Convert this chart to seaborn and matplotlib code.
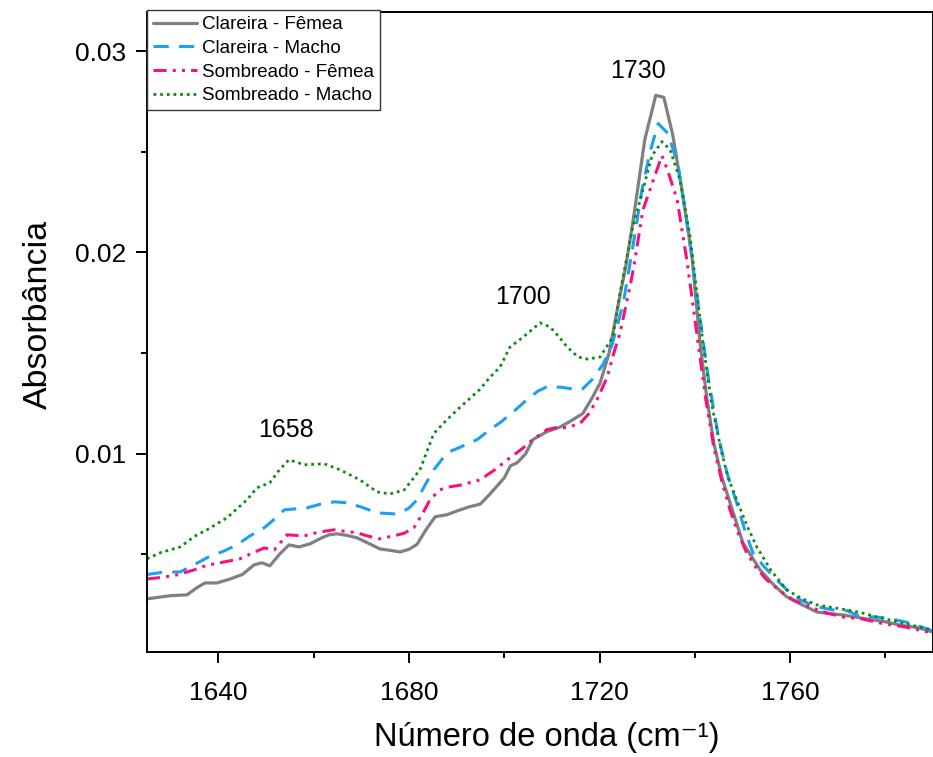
import matplotlib
matplotlib.use("Agg")
import matplotlib.pyplot as plt
import seaborn as sns
import pandas as pd

# ---------------- data ----------------
cf_x = [1625, 1630, 1633.4, 1635.5, 1637.2, 1639.7, 1642.5, 1645, 1647.5, 1649.1, 1650.8, 1652.8,
        1654.8, 1656.9, 1659.2, 1661.5, 1663.2, 1664.9, 1667, 1669.1, 1671.5, 1673.9, 1676, 1678.1,
        1680, 1681.7, 1683.5, 1685.5, 1688, 1690, 1692.5, 1695, 1697, 1698.5, 1700, 1701.3, 1702.7,
        1704.5, 1706, 1709, 1711.5, 1713.8, 1716.5, 1718.5, 1720.1, 1722, 1724, 1725.5, 1727, 1729.5,
        1731.8, 1733.5, 1735.4, 1737.5, 1739.4, 1741.1, 1742.5, 1744, 1745.7, 1747.4, 1750.1, 1753.7,
        1756.5, 1759.3, 1762.5, 1765.6, 1768.5, 1771.1, 1776.1, 1780, 1783, 1787, 1790]
cf_y = [0.00279, 0.00295, 0.00299, 0.00335, 0.00358, 0.00358, 0.00378, 0.00400, 0.00448, 0.00458,
        0.00443, 0.00500, 0.00547, 0.00537, 0.00552, 0.00580, 0.00597, 0.00602, 0.00594, 0.00582,
        0.00555, 0.00527, 0.00520, 0.00512, 0.00525, 0.00550, 0.00620, 0.00687, 0.00697, 0.00715,
        0.00735, 0.00750, 0.00800, 0.00840, 0.00880, 0.00940, 0.00955, 0.01000, 0.01070, 0.01110,
        0.01130, 0.01160, 0.01200, 0.01280, 0.01350, 0.01500, 0.01750, 0.01930, 0.02150, 0.02560,
        0.02780, 0.02770, 0.02580, 0.02280, 0.01980, 0.01550, 0.01280, 0.01050, 0.00880, 0.00756,
        0.00557, 0.00423, 0.00350, 0.00289, 0.00250, 0.00214, 0.00205, 0.00199, 0.00179, 0.00165,
        0.00149, 0.00135, 0.00114]

cm_x = [1625, 1628, 1632, 1635, 1638, 1641, 1643.9, 1646.5, 1649.6, 1651.5, 1653.8, 1658.6, 1661.5,
        1664.3, 1667, 1670, 1673.3, 1676.9, 1678.1, 1680, 1681.7, 1683.5, 1685.2, 1688, 1691, 1694.3,
        1697, 1699.1, 1702, 1704.8, 1707, 1709, 1712, 1715.3, 1716.5, 1718.5, 1720.7, 1722.5, 1725,
        1727, 1728.9, 1730.6, 1732.3, 1734.4, 1736.5, 1738.6, 1741.1, 1743, 1745, 1746.8, 1748.8,
        1750.5, 1752.2, 1754.5, 1757.2, 1759.5, 1762.1, 1765.5, 1769, 1772, 1774, 1777, 1780.3, 1785,
        1790]
cm_y = [0.00400, 0.00410, 0.00413, 0.00450, 0.00488, 0.00515, 0.00547, 0.00590, 0.00632, 0.00670,
        0.00721, 0.00731, 0.00750, 0.00761, 0.00756, 0.00735, 0.00706, 0.00701, 0.00706, 0.00730,
        0.00771, 0.00850, 0.00920, 0.01005, 0.01035, 0.01070, 0.01120, 0.01154, 0.01210, 0.01269,
        0.01310, 0.01333, 0.01330, 0.01318, 0.01323, 0.01370, 0.01443, 0.01530, 0.01750, 0.02030,
        0.02310, 0.02500, 0.02640, 0.02590, 0.02430, 0.02110, 0.01670, 0.01350, 0.01080, 0.00900,
        0.00756, 0.00620, 0.00507, 0.00440, 0.00373, 0.00320, 0.00274, 0.00240, 0.00224, 0.00220,
        0.00199, 0.00190, 0.00184, 0.00160, 0.00119]

sf_x = [1625, 1628, 1631.3, 1634.9, 1637.5, 1640.3, 1644.5, 1647, 1649.6, 1651.7, 1654.4, 1658, 1661,
        1664.3, 1666.5, 1669.1, 1671.5, 1673.9, 1676.8, 1679, 1681, 1682.8, 1684.4, 1686.5, 1688.5,
        1691, 1694.9, 1698, 1701.2, 1703.5, 1706, 1709, 1711, 1713.2, 1715.9, 1717.8, 1719.5, 1721.6,
        1723, 1724.3, 1726.4, 1727.2, 1729.1, 1731.6, 1733.1, 1734.4, 1736.3, 1738.4, 1740.4, 1742.3,
        1744, 1745.7, 1747.4, 1749, 1750.9, 1753, 1755.1, 1757.8, 1760.6, 1764, 1767.7, 1771.1, 1775,
        1778.9, 1784, 1790]
sf_y = [0.00378, 0.00385, 0.00398, 0.00423, 0.00445, 0.00458, 0.00478, 0.00505, 0.00532, 0.00522,
        0.00597, 0.00592, 0.00610, 0.00622, 0.00615, 0.00607, 0.00590, 0.00577, 0.00592, 0.00605,
        0.00632, 0.00700, 0.00771, 0.00821, 0.00835, 0.00845, 0.00870, 0.00920, 0.00980, 0.01020,
        0.01070, 0.01120, 0.01130, 0.01130, 0.01150, 0.01200, 0.01270, 0.01380, 0.01500, 0.01600,
        0.01830, 0.01930, 0.02210, 0.02380, 0.02480, 0.02400, 0.02260, 0.01950, 0.01600, 0.01270,
        0.01030, 0.00860, 0.00721, 0.00610, 0.00507, 0.00430, 0.00373, 0.00320, 0.00274, 0.00240,
        0.00209, 0.00189, 0.00180, 0.00159, 0.00140, 0.00109]

sm_x = [1625, 1628, 1632, 1635, 1637.6, 1641.8, 1646, 1648.1, 1650.8, 1652.8, 1654.8, 1658, 1662.2,
        1665.5, 1669.7, 1673.3, 1676, 1679, 1682.3, 1685.2, 1688, 1690.7, 1694.9, 1697, 1699.1, 1701.2,
        1704, 1707.5, 1709.6, 1711.5, 1713.2, 1715.5, 1717.4, 1720.1, 1722.8, 1724.3, 1727, 1729.1,
        1731, 1733.1, 1734.8, 1736.9, 1739, 1741.7, 1743.5, 1745.5, 1747, 1748.8, 1751, 1753, 1756,
        1759.3, 1762.5, 1765.6, 1771.9, 1775, 1778.2, 1784.5, 1790]
sm_y = [0.00478, 0.00510, 0.00537, 0.00590, 0.00622, 0.00682, 0.00771, 0.00831, 0.00856, 0.00920,
        0.00970, 0.00945, 0.00950, 0.00920, 0.00870, 0.00810, 0.00800, 0.00820, 0.00920, 0.01100,
        0.01170, 0.01230, 0.01320, 0.01380, 0.01430, 0.01530, 0.01580, 0.01650, 0.01630, 0.01580,
        0.01530, 0.01480, 0.01470, 0.01480, 0.01580, 0.01800, 0.02130, 0.02310, 0.02480, 0.02550,
        0.02510, 0.02360, 0.02080, 0.01550, 0.01250, 0.01020, 0.00880, 0.00770, 0.00640, 0.00537,
        0.00420, 0.00323, 0.00280, 0.00249, 0.00224, 0.00210, 0.00189, 0.00154, 0.00124]

series_names = ["Clareira - Fêmea", "Clareira - Macho", "Sombreado - Fêmea", "Sombreado - Macho"]
peak_labels = ["1658", "1700", "1730"]
peak_pos_x = [1654.2, 1703.9, 1728.1]
peak_pos_y = [0.0112, 0.01776, 0.0290]

# ---------------- style ----------------
sns.set_theme(style="ticks")
plt.rcParams["font.family"] = ["Liberation Sans", "DejaVu Sans"]
for k in ["text.color", "axes.labelcolor", "xtick.color", "ytick.color", "axes.edgecolor"]:
    plt.rcParams[k] = "black"

fig = plt.figure(figsize=(9.33, 7.57), dpi=100)
ax = fig.add_axes([147 / 933, 105 / 757, 786 / 933, 640 / 757])

colors = ["#808080", "#1E9FF2", "#F5127E", "#0E8C12"]
styles = ["-", (0, (5, 3.3)), (0, (4.3, 2.0, 1.0, 2.0, 1.0, 2.0)), (0, (1.0, 1.4))]
widths = [2.3, 2.2, 2.2, 2.0]
xs = [cf_x, cm_x, sf_x, sm_x]
ys = [cf_y, cm_y, sf_y, sm_y]

for name, x, y, c, ls, lw in zip(series_names, xs, ys, colors, styles, widths):
    df = pd.DataFrame({"x": x, "y": y})
    sns.lineplot(data=df, x="x", y="y", ax=ax, color=c, linestyle=ls, linewidth=lw,
                 label=name, sort=True, estimator=None)

ax.set_xlim(1625, 1790)
ax.set_ylim(0.00015, 0.03194)
ax.set_xticks([1640, 1680, 1720, 1760])
ax.set_xticks([1660, 1700, 1740, 1780], minor=True)
ax.set_yticks([0.01, 0.02, 0.03])
ax.set_yticklabels(["0.01", "0.02", "0.03"])
ax.set_yticks([0.005, 0.015, 0.025], minor=True)

ax.tick_params(axis="both", which="major", direction="out", length=8, width=1.4,
               labelsize=19, pad=7, color="black", labelcolor="black")
ax.tick_params(axis="both", which="minor", direction="out", length=4.5, width=1.4, color="black")
ax.tick_params(axis="x", which="major", pad=13)

for side in ["left", "bottom", "top", "right"]:
    ax.spines[side].set_visible(True)
    ax.spines[side].set_linewidth(1.4)
    ax.spines[side].set_color("black")

ax.set_xlabel("Número de onda (cm⁻¹)", fontsize=23.5)
ax.set_ylabel("Absorbância", fontsize=24.5)
ax.xaxis.set_label_coords(0.508, -0.110)
ax.yaxis.set_label_coords(-0.118, 0.527)

for t, px, py in zip(peak_labels, peak_pos_x, peak_pos_y):
    ax.text(px, py, t, fontsize=18, ha="center", va="center", color="black")

leg = ax.legend(loc="upper left", bbox_to_anchor=(0, 1.0025), borderaxespad=0, fontsize=13.5,
                frameon=True, fancybox=False, edgecolor="#333333", framealpha=1,
                handlelength=2.35, handletextpad=0.3, labelspacing=0.35, borderpad=0.3)
leg.get_frame().set_linewidth(1.0)

fig.savefig("out.png", dpi=100)
